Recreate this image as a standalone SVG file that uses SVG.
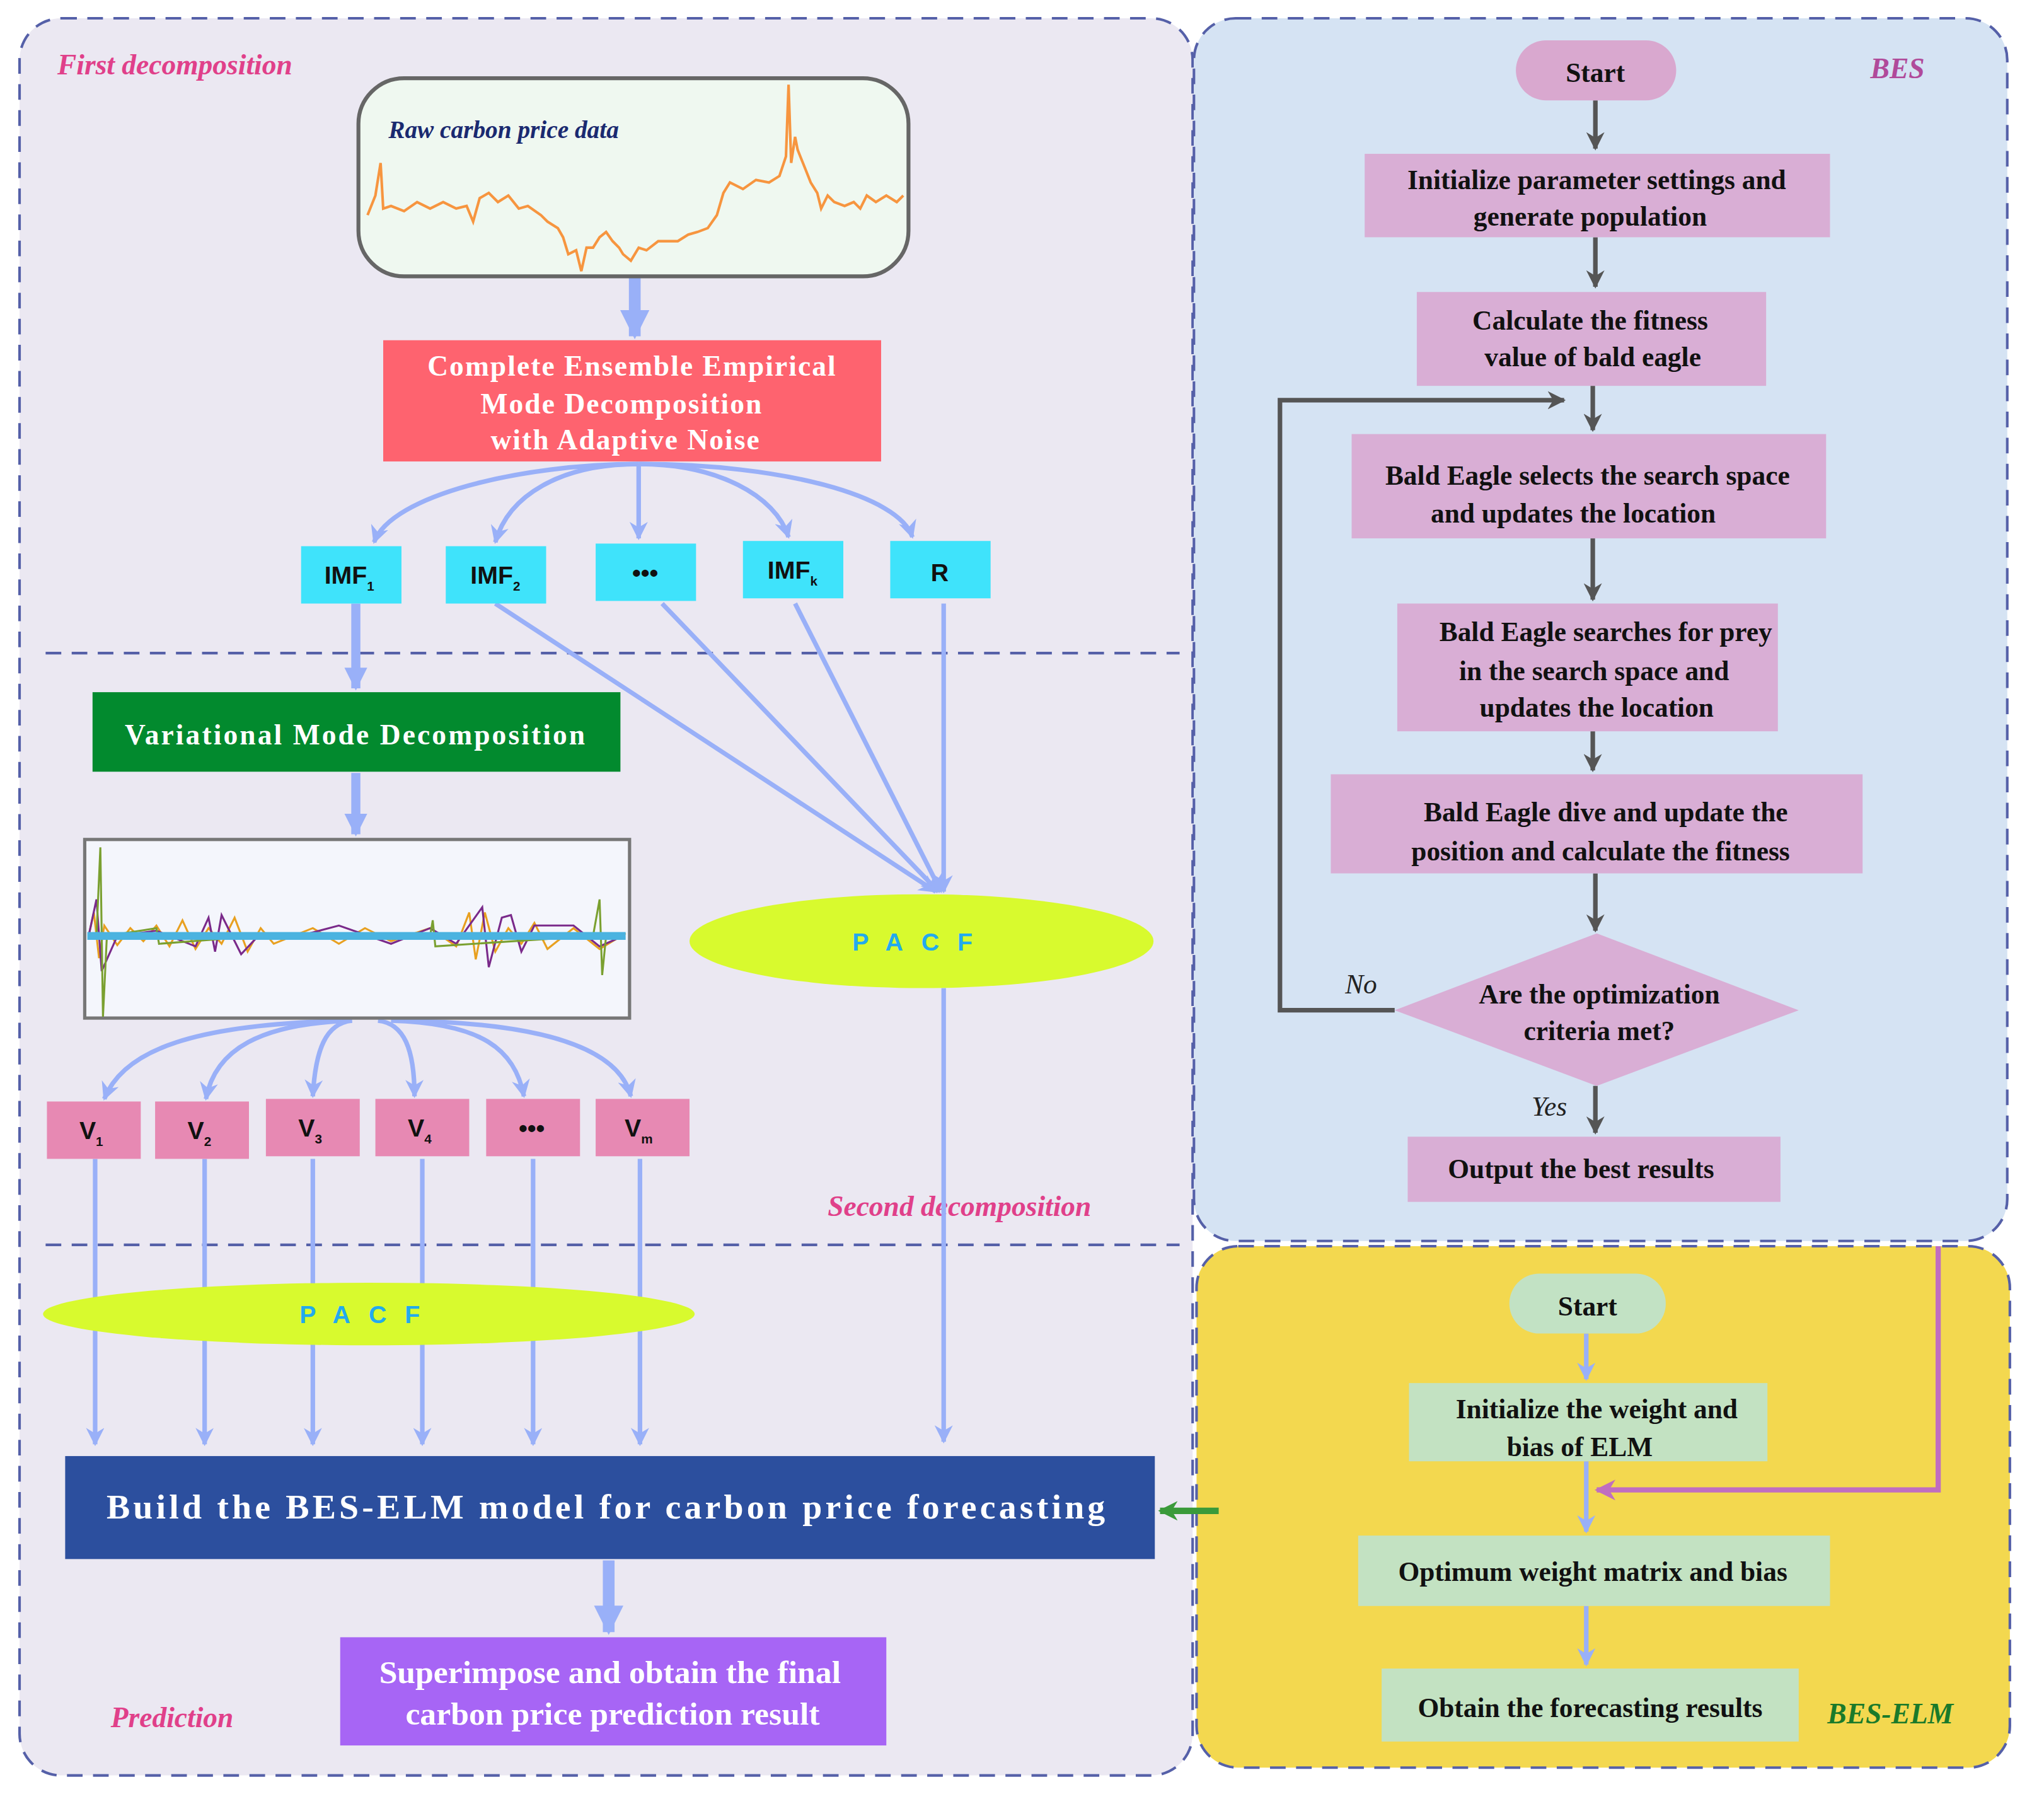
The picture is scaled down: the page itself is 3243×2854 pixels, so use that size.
<svg xmlns="http://www.w3.org/2000/svg" width="3243" height="2854" viewBox="0 0 3243 2854">
<style>
.panel{stroke:#5560a8;stroke-width:2;stroke-dasharray:12 8}
.sep{stroke:#5560a8;stroke-width:2;stroke-dasharray:12 8;fill:none}
.bw{font-family:"Liberation Serif",serif;font-weight:bold;fill:#fff;text-anchor:middle}
.bk{font-family:"Liberation Serif",serif;font-weight:bold;fill:#111;text-anchor:middle;font-size:21px}
.lab{font-family:"Liberation Serif",serif;font-weight:bold;font-style:italic;font-size:22px}
.blu{stroke:#99b0f8;fill:none;stroke-width:3.5}
.gry{stroke:#555;fill:none;stroke-width:3.5}
.cy{fill:#3fe3fb}
.pk{fill:#e789b3}
.bes{fill:#d9aed5}
.elm{fill:#c3e2c2}
.sm{font-family:"Liberation Sans",sans-serif;font-weight:bold;fill:#111;text-anchor:middle;font-size:19px}
</style>
<defs>
<marker id="ab" viewBox="0 0 10 10" refX="9" refY="5" markerWidth="4" markerHeight="4" orient="auto"><path d="M0,0 L10,5 L0,10 L3,5z" fill="#99b0f8"/></marker>
<marker id="ag" viewBox="0 0 10 10" refX="9" refY="5" markerWidth="4" markerHeight="4" orient="auto"><path d="M0,0 L10,5 L0,10 L3,5z" fill="#555"/></marker>
<marker id="ap" viewBox="0 0 10 10" refX="9" refY="5" markerWidth="4" markerHeight="4" orient="auto"><path d="M0,0 L10,5 L0,10 L3,5z" fill="#c06ec0"/></marker>
<marker id="agr" viewBox="0 0 10 10" refX="9" refY="5" markerWidth="3" markerHeight="3" orient="auto"><path d="M0,0 L10,5 L0,10 L3,5z" fill="#3a9a3a"/></marker>
<marker id="abig" viewBox="0 0 10 10" refX="9" refY="5" markerWidth="2.5" markerHeight="2.5" orient="auto"><path d="M0,0 L10,5 L0,10z" fill="#99b0f8"/></marker>
</defs>
<rect width="3243" height="2854" fill="#fff"/>
<g transform="scale(2.068)">
<g id="panels">
<rect class="panel" x="15" y="14" width="900" height="1348" rx="32" fill="#ebe8f2"/>
<rect class="panel" x="916" y="14" width="624" height="938" rx="32" fill="#d5e3f3"/>
<rect class="panel" x="918" y="956" width="624" height="400" rx="32" fill="#f3d84f"/>
<path class="sep" d="M35,501 H905 M35,955 H905"/>
<text class="lab" x="44" y="57" fill="#e0408a">First  decomposition</text>
<text class="lab" x="635" y="933" fill="#e0408a">Second decomposition</text>
<text class="lab" x="85" y="1325" fill="#e0408a">Prediction</text>
<text class="lab" x="1435" y="60" fill="#b04a9a" font-size="24">BES</text>
<text class="lab" x="1402" y="1322" fill="#1a7a2a">BES-ELM</text>
</g>
<g id="connectors">
<line x1="487" y1="212" x2="487" y2="258" stroke="#99b0f8" stroke-width="9" marker-end="url(#abig)"/>
<path class="blu" d="M490,356 C400,356 300,380 287,416" marker-end="url(#ab)"/>
<path class="blu" d="M490,356 C430,356 390,380 380,416" marker-end="url(#ab)"/>
<path class="blu" d="M490,356 V413" marker-end="url(#ab)"/>
<path class="blu" d="M490,356 C550,356 595,380 605,412" marker-end="url(#ab)"/>
<path class="blu" d="M490,356 C600,356 690,380 700,412" marker-end="url(#ab)"/>
<line x1="273" y1="463" x2="273" y2="528" stroke="#99b0f8" stroke-width="7" marker-end="url(#abig)"/>
<line x1="273" y1="593" x2="273" y2="640" stroke="#99b0f8" stroke-width="7" marker-end="url(#abig)"/>
<path class="blu" stroke-width="5" d="M380,463 L718,684" marker-end="url(#ab)"/>
<path class="blu" stroke-width="5" d="M508,463 L720,684" marker-end="url(#ab)"/>
<path class="blu" stroke-width="5" d="M610,463 L722,684" marker-end="url(#ab)"/>
<path class="blu" stroke-width="5" d="M724,463 V684" marker-end="url(#ab)"/>
<path class="blu" d="M724,758 V1106" marker-end="url(#ab)"/>
<path class="blu" d="M270,783 C150,785 95,805 80,843" marker-end="url(#ab)"/>
<path class="blu" d="M270,783 C200,785 165,805 158,843" marker-end="url(#ab)"/>
<path class="blu" d="M270,783 C250,785 242,805 240,841" marker-end="url(#ab)"/>
<path class="blu" d="M290,783 C310,785 318,805 318,841" marker-end="url(#ab)"/>
<path class="blu" d="M300,783 C370,785 395,805 402,841" marker-end="url(#ab)"/>
<path class="blu" d="M310,783 C420,785 475,805 484,841" marker-end="url(#ab)"/>
<path class="blu" d="M73,889 V1108" marker-end="url(#ab)"/>
<path class="blu" d="M157,889 V1108" marker-end="url(#ab)"/>
<path class="blu" d="M240,889 V1108" marker-end="url(#ab)"/>
<path class="blu" d="M324,889 V1108" marker-end="url(#ab)"/>
<path class="blu" d="M409,889 V1108" marker-end="url(#ab)"/>
<path class="blu" d="M491,889 V1108" marker-end="url(#ab)"/>
<line x1="467" y1="1197" x2="467" y2="1252" stroke="#99b0f8" stroke-width="9" marker-end="url(#abig)"/>
<line x1="935" y1="1159" x2="890" y2="1159" stroke="#3a9a3a" stroke-width="5" marker-end="url(#agr)"/>
<path class="gry" d="M1224,77 V114" marker-end="url(#ag)"/>
<path class="gry" d="M1224,182 V220" marker-end="url(#ag)"/>
<path class="gry" d="M1222,296 V330" marker-end="url(#ag)"/>
<path class="gry" d="M1222,413 V460" marker-end="url(#ag)"/>
<path class="gry" d="M1222,561 V591" marker-end="url(#ag)"/>
<path class="gry" d="M1224,670 V714" marker-end="url(#ag)"/>
<path class="gry" d="M1224,833 V869" marker-end="url(#ag)"/>
<path class="gry" d="M1070,775 H982 V307 H1200" marker-end="url(#ag)"/>
<text x="1032" y="762" font-family="Liberation Serif,serif" font-style="italic" font-size="21" fill="#222">No</text>
<text x="1175" y="856" font-family="Liberation Serif,serif" font-style="italic" font-size="21" fill="#222">Yes</text>
<path class="blu" d="M1217,1023 V1058" marker-end="url(#ab)"/>
<path class="blu" d="M1217,1121 V1175" marker-end="url(#ab)"/>
<path class="blu" d="M1217,1232 V1277" marker-end="url(#ab)"/>
<path d="M1487,956 V1143 H1225" stroke="#c06ec0" stroke-width="4" fill="none" marker-end="url(#ap)"/>
</g>
<g id="raw">
<rect x="275" y="60" width="422" height="152" rx="35" fill="#eff8f0" stroke="#666" stroke-width="3"/>
<text x="298" y="106" font-family="Liberation Serif,serif" font-style="italic" font-weight="bold" font-size="19" fill="#1a2a70">Raw carbon price data</text>
<polyline fill="none" stroke="#f7953f" stroke-width="2" points="282,165 288,150 292,125 294,160 300,158 310,162 320,155 330,160 340,155 350,160 358,158 363,170 368,152 375,148 382,155 390,150 398,160 405,158 415,165 420,170 428,175 432,182 436,195 442,192 446,208 450,190 455,190 460,182 465,178 470,185 475,190 478,195 484,200 490,190 496,192 505,185 512,185 520,185 528,180 535,178 543,175 550,165 555,148 560,140 570,145 580,138 590,140 598,135 603,120 605,65 607,125 610,105 612,115 618,130 622,140 627,148 630,160 635,150 640,155 648,158 655,155 660,160 665,150 672,155 680,150 688,155 693,150"/>
</g>
<g id="ceemdan">
<rect x="294" y="261" width="382" height="93" fill="#fe636f"/>
<text class="bw" font-size="22" letter-spacing="1" x="485" y="288">Complete Ensemble Empirical</text>
<text class="bw" font-size="22" letter-spacing="1" x="477" y="317">Mode Decomposition</text>
<text class="bw" font-size="22" letter-spacing="1" x="480" y="345">with Adaptive Noise</text>
</g>
<g id="imfs">
<rect class="cy" x="231" y="419" width="77" height="44"/><text class="sm" x="268" y="448">IMF<tspan font-size="10" dy="5">1</tspan></text>
<rect class="cy" x="342" y="419" width="77" height="44"/><text class="sm" x="380" y="448">IMF<tspan font-size="10" dy="5">2</tspan></text>
<rect class="cy" x="457" y="417" width="77" height="44"/><text class="sm" x="495" y="446">•••</text>
<rect class="cy" x="570" y="415" width="77" height="44"/><text class="sm" x="608" y="444">IMF<tspan font-size="10" dy="5">k</tspan></text>
<rect class="cy" x="683" y="415" width="77" height="44"/><text class="sm" x="721" y="446">R</text>
</g>
<g id="vmd">
<rect x="71" y="531" width="405" height="61" fill="#028a2e"/>
<text class="bw" font-size="22" letter-spacing="1.5" x="273" y="571">Variational Mode Decomposition</text>
</g>
<g id="modes">
<rect x="65" y="644" width="418" height="137" fill="#f4f6fc" stroke="#777" stroke-width="2.5"/>
<polyline fill="none" stroke="#e8a020" stroke-width="1.5" points="68,718 72,700 76,735 80,710 90,725 100,712 110,722 120,710 130,726 140,706 150,728 160,712 170,724 180,704 190,730 200,712 210,724 240,712 260,724 280,712 300,722 330,712 350,726 360,700 365,736 372,700 380,730 390,712 400,724 410,708 420,728 440,712 460,728 480,716"/>
<polyline fill="none" stroke="#7a2a8a" stroke-width="1.5" points="68,718 74,690 78,745 90,718 120,714 150,726 160,704 165,730 170,702 185,732 200,716 230,718 260,710 300,724 330,712 350,724 370,696 375,742 385,704 392,702 400,730 410,710 440,710 460,726 478,718"/>
<polyline fill="none" stroke="#7aa030" stroke-width="1.5" points="74,718 77,650 79,780 82,718 120,712 122,724 200,718 330,718 332,706 334,726 455,718 460,690 462,748 465,718"/>
<rect x="67" y="715" width="413" height="6" fill="#4bb3e0"/>
</g>
<g id="vs">
<rect class="pk" x="36" y="845" width="72" height="44"/><text class="sm" x="70" y="874">V<tspan font-size="10" dy="5">1</tspan></text>
<rect class="pk" x="119" y="845" width="72" height="44"/><text class="sm" x="153" y="874">V<tspan font-size="10" dy="5">2</tspan></text>
<rect class="pk" x="204" y="843" width="72" height="44"/><text class="sm" x="238" y="872">V<tspan font-size="10" dy="5">3</tspan></text>
<rect class="pk" x="288" y="843" width="72" height="44"/><text class="sm" x="322" y="872">V<tspan font-size="10" dy="5">4</tspan></text>
<rect class="pk" x="373" y="843" width="72" height="44"/><text class="sm" x="408" y="872">•••</text>
<rect class="pk" x="457" y="843" width="72" height="44"/><text class="sm" x="490" y="872">V<tspan font-size="10" dy="5">m</tspan></text>
</g>
<g id="pacf1">
<ellipse cx="707" cy="722" rx="178" ry="36" fill="#d8fa2e"/>
<text x="707" y="729" text-anchor="middle" font-family="Liberation Sans,sans-serif" font-weight="bold" font-size="19" fill="#22aaee" letter-spacing="14">PACF</text>
</g>
<g id="pacf2">
<ellipse cx="283" cy="1008" rx="250" ry="24" fill="#d8fa2e"/>
<text x="283" y="1015" text-anchor="middle" font-family="Liberation Sans,sans-serif" font-weight="bold" font-size="19" fill="#22aaee" letter-spacing="14">PACF</text>
</g>
<g id="build">
<rect x="50" y="1117" width="836" height="79" fill="#2c4f9e"/>
<text class="bw" font-size="27" letter-spacing="2.5" x="466" y="1165">Build the BES-ELM model for carbon price forecasting</text>
</g>
<g id="superimpose">
<rect x="261" y="1256" width="419" height="83" fill="#a765f5"/>
<text class="bw" font-size="25" x="468" y="1291">Superimpose and obtain the final</text>
<text class="bw" font-size="25" x="470" y="1323">carbon price prediction result</text>
</g>
<g id="bes-start"><rect x="1163" y="31" width="123" height="46" rx="23" fill="#d9a8cf"/><text class="bk" font-size="25" x="1224" y="63">Start</text></g>
<g id="bes1"><rect class="bes" x="1047" y="118" width="357" height="64"/><text class="bk" x="1225" y="145">Initialize parameter settings and</text><text class="bk" x="1220" y="173">generate population</text></g>
<g id="bes2"><rect class="bes" x="1087" y="224" width="268" height="72"/><text class="bk" x="1220" y="253">Calculate the fitness</text><text class="bk" x="1222" y="281">value of bald eagle</text></g>
<g id="bes3"><rect class="bes" x="1037" y="333" width="364" height="80"/><text class="bk" x="1218" y="372">Bald Eagle selects the search space</text><text class="bk" x="1207" y="401">and updates the location</text></g>
<g id="bes4"><rect class="bes" x="1072" y="463" width="292" height="98"/><text class="bk" x="1232" y="492">Bald Eagle searches for prey</text><text class="bk" x="1223" y="522">in the search space and</text><text class="bk" x="1225" y="550">updates the location</text></g>
<g id="bes5"><rect class="bes" x="1021" y="594" width="408" height="76"/><text class="bk" x="1232" y="630">Bald Eagle dive and update the</text><text class="bk" x="1228" y="660">position  and calculate the fitness</text></g>
<g id="bes-dec"><polygon class="bes" points="1225,716 1380,775 1225,833 1070,775"/><text class="bk" x="1227" y="770">Are the optimization</text><text class="bk" x="1227" y="798">criteria met?</text></g>
<g id="bes-out"><rect class="bes" x="1080" y="872" width="286" height="50"/><text class="bk" x="1213" y="904">Output the best results</text></g>
<g id="elm-start"><rect x="1158" y="977" width="120" height="46" rx="23" fill="#c2e2c4"/><text class="bk" font-size="25" x="1218" y="1009">Start</text></g>
<g id="elm1"><rect class="elm" x="1081" y="1061" width="275" height="60"/><text class="bk" x="1225" y="1088">Initialize the weight and</text><text class="bk" x="1212" y="1117">bias of ELM</text></g>
<g id="elm2"><rect class="elm" x="1042" y="1178" width="362" height="54"/><text class="bk" x="1222" y="1213">Optimum weight matrix and bias</text></g>
<g id="elm3"><rect class="elm" x="1060" y="1280" width="320" height="56"/><text class="bk" x="1220" y="1317">Obtain the forecasting results</text></g>
</g>
</svg>
